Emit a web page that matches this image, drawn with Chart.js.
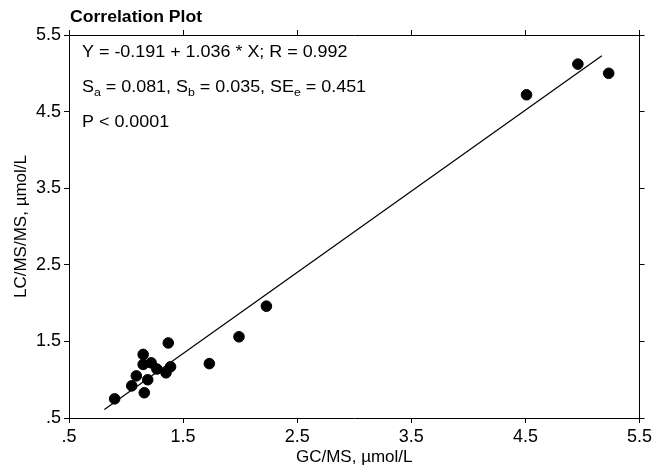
<!DOCTYPE html>
<html>
<head>
<meta charset="utf-8">
<script src="https://cdn.jsdelivr.net/npm/chart.js@4/dist/chart.umd.min.js"></script>
<style>
    html, body { margin: 0; padding: 0; background: #fff; }
    #wrap { width: 655px; height: 468px; }
</style>
</head>
<body>
<div id="wrap"><canvas id="corrChart"></canvas></div>
<script>
// GC/MS vs LC/MS/MS, umol/L
const gcms = [0.90, 1.05, 1.09, 1.15, 1.15, 1.16, 1.19, 1.22, 1.27, 1.35, 1.37, 1.39, 1.73, 1.99, 2.23, 4.51, 4.96, 5.23];
const lcms = [0.75, 0.92, 1.05, 1.33, 1.20, 0.83, 1.00, 1.22, 1.14, 1.09, 1.48, 1.17, 1.21, 1.56, 1.96, 4.72, 5.12, 5.00];

// ends of the regression line as drawn
const fitX = [0.81, 5.17];
const fitY = [0.61, 5.23];

const tickVals = [0.5, 1.5, 2.5, 3.5, 4.5, 5.5];

const FONT = "'Liberation Sans', Arial, sans-serif";
Chart.defaults.font.family = FONT;
Chart.defaults.color = "#000";

function setTicks(scale) {
    scale.ticks = tickVals.map(v => ({ value: v }));
}

function tickLabel(v) {
    return v === 0.5 ? ".5" : v.toFixed(1);
}

function axis(position, showLabels, size) {
    return {
        type: "linear",
        position: position,
        min: 0.5,
        max: 5.5,
        afterBuildTicks: setTicks,
        afterFit: function (scale) {
            if (scale.isHorizontal()) scale.height = size;
            else scale.width = size;
        },
        grid: { display: true, drawOnChartArea: false, drawTicks: true, tickLength: 5, color: "#000", lineWidth: 1 },
        border: { display: true, color: "#000", width: 1 },
        ticks: { display: showLabels, font: { size: 18 }, color: "#000", padding: 3, callback: tickLabel, maxRotation: 0 }
    };
}

// draws text, optionally stretched a little sideways like the original
function stretchText(ctx, text, x, y, sx) {
    ctx.save();
    ctx.translate(x, y);
    ctx.scale(sx, 1);
    ctx.fillText(text, 0, 0);
    let w = ctx.measureText(text).width * sx;
    ctx.restore();
    return w;
}

// text with subscripts: parts = [[text, isSub], ...]
function richText(ctx, parts, x, y) {
    parts.forEach(p => {
        if (p[1]) {
            ctx.font = "11px " + FONT;
            x += stretchText(ctx, p[0], x, y + 4, 1.12);
        } else {
            ctx.font = "16px " + FONT;
            x += stretchText(ctx, p[0], x, y, 1.12);
        }
    });
}

const textPlugin = {
    id: "corrText",
    afterDraw(chart) {
        const ctx = chart.ctx;
        ctx.save();
        ctx.fillStyle = "#000";
        ctx.textBaseline = "alphabetic";
        ctx.textAlign = "left";

        // title
        ctx.font = "bold 16px " + FONT;
        stretchText(ctx, "Correlation Plot", 70, 22, 1.1);

        // regression statistics
        richText(ctx, [["Y = -0.191 + 1.036 * X; R = 0.992", false]], 82, 57);
        richText(ctx, [["S", false], ["a", true], [" = 0.081, S", false], ["b", true],
                       [" = 0.035, SE", false], ["e", true], [" = 0.451", false]], 82, 92);
        richText(ctx, [["P < 0.0001", false]], 82, 127);
        ctx.restore();
    }
};

const x = axis("bottom", true, 50);
x.title = { display: true, text: "GC/MS, µmol/L", font: { size: 17 }, color: "#000", padding: { top: 0, bottom: 0 } };
const y = axis("left", true, 69);
y.title = { display: true, text: "LC/MS/MS, µmol/L", font: { size: 17 }, color: "#000", padding: { top: 11, bottom: 0 } };

new Chart(document.getElementById("corrChart"), {
    type: "scatter",
    data: {
        datasets: [
            {
                label: "samples",
                data: gcms.map((v, i) => ({ x: v, y: lcms[i] })),
                backgroundColor: "#000",
                borderColor: "#000",
                pointRadius: 5.3,
                pointHoverRadius: 5.3
            },
            {
                label: "fit",
                data: fitX.map((v, i) => ({ x: v, y: fitY[i] })),
                showLine: true,
                borderColor: "#000",
                borderWidth: 1.2,
                pointRadius: 0,
                fill: false
            }
        ]
    },
    options: {
        responsive: true,
        maintainAspectRatio: false,
        animation: false,
        layout: { padding: 0 },
        plugins: {
            legend: { display: false },
            title: { display: false },
            tooltip: { enabled: false }
        },
        scales: {
            x: x,
            y: y,
            x2: axis("top", false, 35),
            y2: axis("right", false, 13)
        }
    },
    plugins: [textPlugin]
});
</script>
</body>
</html>
